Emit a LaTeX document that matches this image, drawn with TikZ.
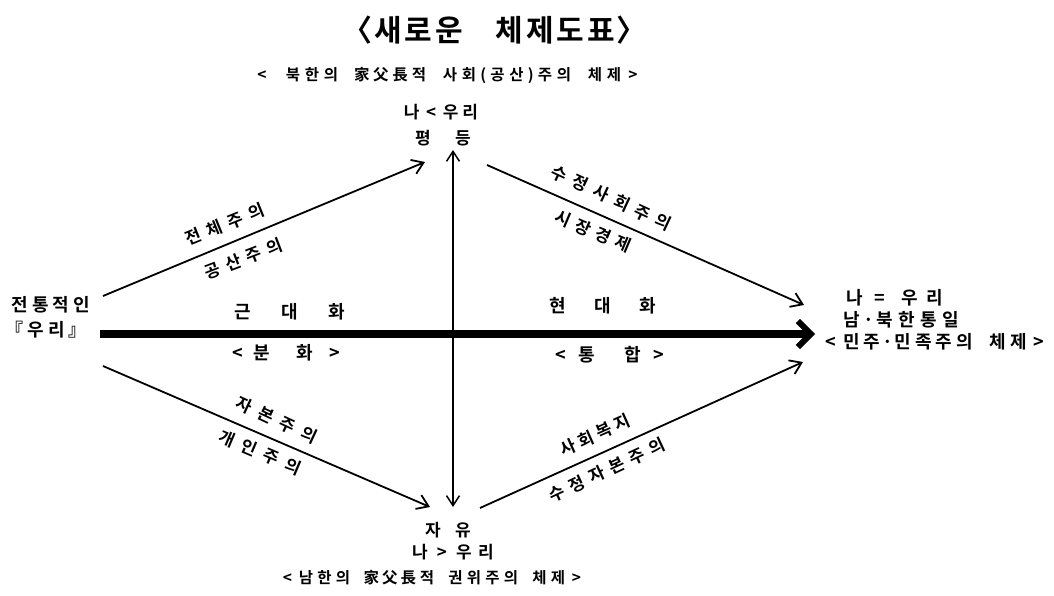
\documentclass[tikz,border=0pt]{standalone}
\usepackage{fontspec}
\setmainfont{Noto Sans CJK KR}[BoldFont={Noto Sans CJK KR Bold}]
\usetikzlibrary{arrows.meta}
\ExplSyntaxOn
\NewDocumentCommand\mono{mmm}{
  \tl_map_inline:nn {#3} {
    \str_if_eq:nnTF {##1} {|} {\hspace*{#2}}
      {
        \bool_lazy_any:nTF
          { {\str_if_eq_p:nn {##1} {·}} {\str_if_eq_p:nn {##1} {(}} {\str_if_eq_p:nn {##1} {)}} }
          {\makebox[0.5\dimexpr #1\relax][c]{##1}}
          {\makebox[#1][c]{##1}}
      }
  }
}
\ExplSyntaxOff
\begin{document}
\begin{tikzpicture}[x=1pt,y=-1pt,
  lbl/.style={font=\bfseries\fontsize{18}{20}\selectfont, inner sep=0pt},
  vlbl/.style={font=\bfseries\fontsize{17}{19}\selectfont, inner sep=0pt},
  sub/.style={font=\bfseries\fontsize{15.5}{17}\selectfont, inner sep=0pt},
  slant/.style={font=\bfseries\fontsize{17}{19}\selectfont, inner sep=0pt},
  thin arrow/.style={line width=1.8pt, -{Straight Barb[length=11pt,width=15pt,line width=1.8pt]}},
  dbl arrow/.style={line width=1.5pt, {Straight Barb[length=10pt,width=13pt,line width=1.5pt]}-{Straight Barb[length=10pt,width=13pt,line width=1.5pt]}},
  thick arrow/.style={line width=8.5pt, -{Straight Barb[length=13pt,width=26pt,line width=6pt]}}]
\useasboundingbox[fill=white] (0,0) rectangle (1054,595);
% titles
\node[font=\bfseries\fontsize{30}{33}\selectfont, inner sep=0pt] (title) at (494.5,30) {\mono{30.5pt}{30pt}{〈새로운|체제도표〉}};
\node[sub] (topsub) at (447.5,75) {\mono{19pt}{12pt}{<|북한의|家父長적|사회(공산)주의|체제>}};
% vertex texts
\node[vlbl] (top1) at (441,112) {\mono{19.5pt}{0pt}{나<우리}};
\node[vlbl] (top2) at (443,138) {\mono{20pt}{20pt}{평|등}};
\node[lbl] (left1) at (51,305) {\mono{20.5pt}{0pt}{전통적인}};
\node[lbl] (left2) at (46.5,330) {\mono{21pt}{0pt}{『우리』}};
\node[lbl] (right1) at (895,298) {\mono{25pt}{5pt}{나=|우리}};
\node[lbl] (right2) at (901.5,320) {\mono{22pt}{0pt}{남·북한통일}};
\node[lbl] (right3) at (935,342) {\mono{20.5pt}{13pt}{<민주·민족주의|체제>}};
\node[vlbl] (bot1) at (448,530) {\mono{18pt}{12pt}{자|유}};
\node[vlbl] (bot2) at (453,552) {\mono{22pt}{0pt}{나>우리}};
\node[sub] (botsub) at (432,578) {\mono{18.5pt}{10pt}{<남한의|家父長적|권위주의|체제>}};
% connector end points
\coordinate (L1) at (103,296);
\coordinate (T1) at (425,162);
\coordinate (T2) at (487,165);
\coordinate (R1) at (804,305);
\coordinate (L2) at (103,366);
\coordinate (B1) at (430,507);
\coordinate (B2) at (480,508);
\coordinate (R2) at (803,362);
\coordinate (VT) at (453,150);
\coordinate (VB) at (453,507);
\coordinate (HL) at (100,334);
\coordinate (HR) at (815,334);
\draw[thin arrow] (L1) -- (T1);
\draw[thin arrow] (T2) -- (R1);
\draw[thin arrow] (L2) -- (B1);
\draw[thin arrow] (B2) -- (R2);
\draw[dbl arrow] (VT) -- (VB);
\draw[thick arrow] (HL) -- (HR);
% slanted labels
\node[slant, rotate=22] (a1) at (225,224.5) {\mono{22.5pt}{0pt}{전체주의}};
\node[slant, rotate=21] (a2) at (243.5,259) {\mono{22pt}{0pt}{공산주의}};
\node[slant, rotate=-25] (b1) at (611.5,198) {\mono{23pt}{0pt}{수정사회주의}};
\node[slant, rotate=-23] (b2) at (593,231.5) {\mono{21.5pt}{0pt}{시장경제}};
\node[slant, rotate=-25] (c1) at (276.7,420) {\mono{24pt}{0pt}{자본주의}};
\node[slant, rotate=-23] (c2) at (260,452.5) {\mono{24pt}{0pt}{개인주의}};
\node[slant, rotate=24] (d1) at (595,435) {\mono{20pt}{0pt}{사회복지}};
\node[slant, rotate=25] (d2) at (607,470) {\mono{22pt}{0pt}{수정자본주의}};
% horizontal labels
\node[lbl] (m1) at (290,312) {\mono{17pt}{30pt}{근|대|화}};
\node[lbl] (m2) at (286.5,353) {\mono{17pt}{6.5pt}{<|분||||화||>}};
\node[lbl] (m3) at (603,306) {\mono{17pt}{28pt}{현|대|화}};
\node[lbl] (m4) at (610,355) {\mono{17pt}{9.5pt}{<|통|||합|>}};
\end{tikzpicture}
\end{document}
